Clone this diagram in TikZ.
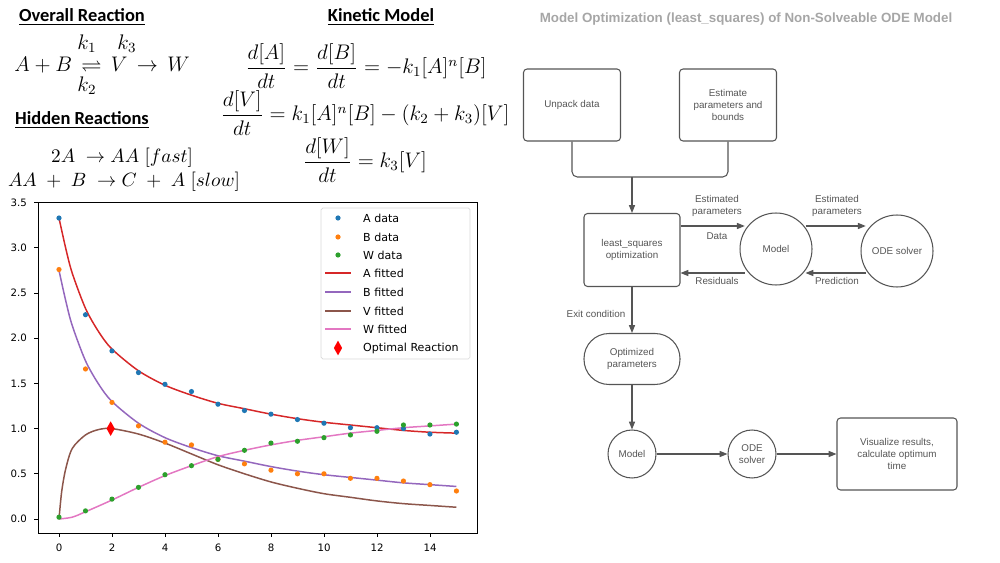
\documentclass[tikz,border=0pt]{standalone}
\usepackage{fontspec}
\usepackage{amsmath,amssymb}
\setmainfont{Liberation Sans}
\newfontfamily\hdfont{Carlito}
\newfontfamily\plfont{DejaVu Sans}
\usetikzlibrary{arrows.meta,shapes.geometric}
\definecolor{cA}{HTML}{1F77B4}\definecolor{cB}{HTML}{FF7F0E}\definecolor{cW}{HTML}{2CA02C}
\definecolor{fA}{HTML}{D62728}\definecolor{fB}{HTML}{9467BD}\definecolor{fV}{HTML}{8C564B}\definecolor{fW}{HTML}{E377C2}
\definecolor{fl}{HTML}{555555}\definecolor{ttl}{HTML}{A6A6A6}
\tikzset{
 hd/.style={font=\hdfont\bfseries\fontsize{10.5}{12}\selectfont},
 eq/.style={font=\fontsize{11.5}{14}\selectfont},
 eqs/.style={font=\fontsize{10.8}{13}\selectfont},
 ft/.style={font=\fontsize{5.6}{6.8}\selectfont,text=fl,align=center},
 rbox/.style={ft,draw=fl,line width=0.6pt,rounded corners=2pt,minimum width=1.94cm,minimum height=1.44cm},
 cir/.style={ft,draw=fl,line width=0.6pt,circle,minimum size=1.44cm,inner sep=0pt},
 scir/.style={cir,minimum size=0.96cm},
 arr/.style={draw=fl,line width=0.6pt,-{Triangle[length=4.5pt,width=3.5pt]}},
 lbl/.style={ft},
 tk/.style={font=\plfont\fontsize{5.8}{7}\selectfont},
 lg/.style={font=\plfont\fontsize{6.3}{7.5}\selectfont,anchor=west},
 fit/.style={line width=0.85pt},
 dot/.style={radius=0.052cm}
}
\begin{document}
\begin{tikzpicture}[x=0.02cm,y=-0.02cm]
\useasboundingbox (0,0) rectangle (1000,563);
% headers & equations
\node[hd] (h1) at (82,17) {\underline{Overall Reaction}};
\node[eq,anchor=west,inner sep=0pt] (e0) at (14,65) {$A+B\,\rightleftharpoons\, V\,\rightarrow\, W$};
\node[eq,inner sep=0pt] (kk1) at (87,44) {$k_1$};
\node[eq,inner sep=0pt] (kk3) at (127,44) {$k_3$};
\node[eq,inner sep=0pt] (kk2) at (87,86) {$k_2$};
\node[hd] (h2) at (82,120) {\underline{Hidden Reactions}};
\node[eqs] (e1) at (122,158) {$2A\ \rightarrow AA\ [fast]$};
\node[eqs] (e2) at (124,182) {$AA\ +\ B\ \rightarrow C\ +\ A\ [slow]$};
\node[hd] (h3) at (381,17) {\underline{Kinetic Model}};
\node[eq] (k1) at (366,66) {$\dfrac{d[A]}{dt}=\dfrac{d[B]}{dt}=-k_1[A]^n[B]$};
\node[eq] (k2) at (365,113) {$\dfrac{d[V]}{dt}=k_1[A]^n[B]-(k_2+k_3)[V]$};
\node[eq] (k3) at (365,160) {$\dfrac{d[W]}{dt}=k_3[V]$};
\node[font=\bfseries\fontsize{7.6}{9}\selectfont,text=ttl] (ttl) at (746,19) {Model Optimization (least\_squares) of Non-Solveable ODE Model};
% plot
\draw[line width=0.5pt] (38,202) rectangle (477,533);
\foreach \v/\l in {0/0.0,1/0.5,2/1.0,3/1.5,4/2.0,5/2.5,6/3.0,7/3.5}{
  \draw[line width=0.5pt] (38,{519-45.2*\v}) -- (34,{519-45.2*\v});
  \node[tk,anchor=east] at (33,{519-45.2*\v}) {\l};}
\foreach \t in {0,2,...,14}{
  \draw[line width=0.5pt] ({59+26.5*\t},533) -- ({59+26.5*\t},537);
  \node[tk,anchor=north] at ({59+26.5*\t},538) {\t};}
\begin{scope}[shift={(59,519)},x=0.53cm,y=1.808cm]
\draw[fA,fit] plot[smooth] coordinates {(0,3.33)(0.25,3.0)(0.5,2.72)(1,2.33)(1.5,2.07)(2,1.88)(3,1.64)(4,1.48)(5,1.37)(6,1.28)(7,1.22)(8,1.16)(9,1.11)(10,1.07)(11,1.04)(12,1.01)(13,0.98)(14,0.96)(15,0.95)};
\draw[fB,fit] plot[smooth] coordinates {(0,2.75)(0.25,2.42)(0.5,2.14)(1,1.75)(1.5,1.49)(2,1.30)(3,1.06)(4,0.90)(5,0.79)(6,0.70)(7,0.64)(8,0.58)(9,0.53)(10,0.49)(11,0.46)(12,0.43)(13,0.40)(14,0.38)(15,0.36)};
\draw[fV,fit] plot[smooth] coordinates {(0,0)(0.1,0.3)(0.25,0.55)(0.5,0.78)(1,0.93)(1.5,0.99)(2,1.0)(3,0.94)(4,0.84)(5,0.72)(6,0.60)(7,0.50)(8,0.41)(9,0.34)(10,0.28)(11,0.24)(12,0.20)(13,0.17)(14,0.15)(15,0.13)};
\draw[fW,fit] plot[smooth] coordinates {(0,0)(0.5,0.02)(1,0.08)(2,0.21)(3,0.35)(4,0.48)(5,0.59)(6,0.69)(7,0.76)(8,0.82)(9,0.87)(10,0.91)(11,0.95)(12,0.98)(13,1.01)(14,1.03)(15,1.05)};
\foreach \t/\v in {0/3.33,1/2.26,2/1.86,3/1.62,4/1.49,5/1.41,6/1.27,7/1.20,8/1.16,9/1.10,10/1.06,11/1.01,12/1.01,13/1.00,14/0.94,15/0.96}{\fill[cA] (\t,\v) circle[dot];}
\foreach \t/\v in {0/2.76,1/1.66,2/1.29,3/1.03,4/0.85,5/0.82,6/0.66,7/0.61,8/0.54,9/0.50,10/0.50,11/0.45,12/0.45,13/0.42,14/0.38,15/0.31}{\fill[cB] (\t,\v) circle[dot];}
\foreach \t/\v in {0/0.02,1/0.09,2/0.22,3/0.35,4/0.49,5/0.59,6/0.66,7/0.76,8/0.84,9/0.86,10/0.90,11/0.93,12/0.97,13/1.04,14/1.04,15/1.05}{\fill[cW] (\t,\v) circle[dot];}
\node[diamond,fill=red,inner sep=0pt,minimum width=0.17cm,minimum height=0.3cm] (opt) at (1.95,1.0) {};
\end{scope}
% legend
\draw[draw=black!15,fill=white,rounded corners=1pt,line width=0.4pt] (321,208) rectangle (470,359);
\fill[cA] (338,218) circle[dot]; \node[lg] at (357,218) {A data};
\fill[cB] (338,237) circle[dot]; \node[lg] at (357,237) {B data};
\fill[cW] (338,255) circle[dot]; \node[lg] at (357,255) {W data};
\draw[fA,fit] (325,273) -- (351,273); \node[lg] at (357,273) {A fitted};
\draw[fB,fit] (325,292) -- (351,292); \node[lg] at (357,292) {B fitted};
\draw[fV,fit] (325,311) -- (351,311); \node[lg] at (357,311) {V fitted};
\draw[fW,fit] (325,329) -- (351,329); \node[lg] at (357,329) {W fitted};
\node[diamond,fill=red,inner sep=0pt,minimum width=0.17cm,minimum height=0.3cm] at (338,348) {}; \node[lg] at (357,348) {Optimal Reaction};
% flowchart
\node[rbox] (up) at (572,105) {Unpack data};
\node[rbox] (est) at (728,105) {Estimate\\parameters and\\bounds};
\node[rbox,minimum width=1.92cm,minimum height=1.46cm] (ls) at (632,250) {least\_squares\\optimization};
\node[cir] (mod) at (776,249) {Model};
\node[cir] (ode) at (897,251) {ODE solver};
\node[rbox,minimum width=1.92cm,minimum height=1.02cm,rounded corners=0.5cm] (op) at (632,359) {Optimized\\parameters};
\node[scir] (mod2) at (632,454) {Model};
\node[scir] (ode2) at (752,454) {ODE\\solver};
\node[rbox,minimum width=2.4cm] (vis) at (897,454) {Visualize results,\\calculate optimum\\time};
\coordinate (j) at (632,177);
\draw[draw=fl,line width=0.6pt,rounded corners=3pt] (up.south) |- (j) -| (est.south);
\draw[arr] (j) -- (ls.north);
\draw[arr] (ls.east |- 0,226) -- ([xshift=3]mod.west |- 0,226);
\draw[arr] ([xshift=-4]mod.east |- 0,226) -- ([xshift=3]ode.west |- 0,226);
\draw[arr] ([xshift=3]mod.west |- 0,273) -- (ls.east |- 0,273);
\draw[arr] ([xshift=3]ode.west |- 0,273) -- ([xshift=-4]mod.east |- 0,273);
\node[lbl] at (717,206) {Estimated\\parameters};
\node[lbl] at (717,236) {Data};
\node[lbl] at (717,281) {Residuals};
\node[lbl] at (837,206) {Estimated\\parameters};
\node[lbl] at (837,281) {Prediction};
\draw[arr] (ls.south) -- (op.north);
\node[lbl] at (596,314) {Exit condition};
\draw[arr] (op.south) -- (mod2.north);
\draw[arr] (mod2.east) -- (ode2.west);
\draw[arr] (ode2.east) -- (vis.west);
\end{tikzpicture}
\end{document}
